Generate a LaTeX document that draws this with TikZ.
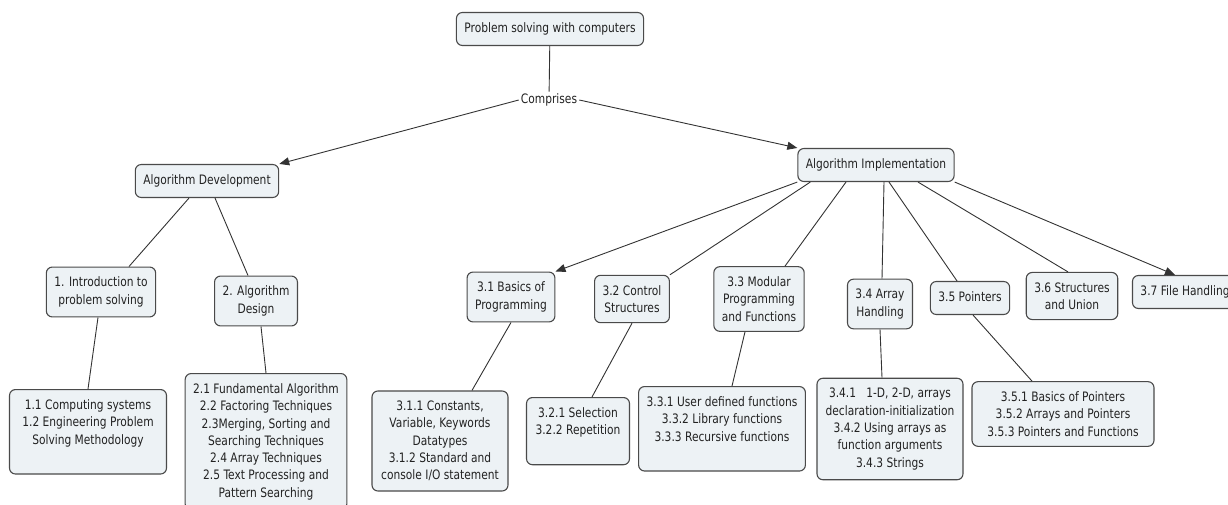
\documentclass[tikz,border=0pt]{standalone}
\usepackage{fontspec}
\setmainfont{DejaVu Sans}[FakeStretch=0.82]
\usepackage{tikz}
\usetikzlibrary{calc}
\usetikzlibrary{positioning}
\usetikzlibrary{arrows.meta}
\definecolor{boxfill}{HTML}{EDF2F5}
\definecolor{boxline}{HTML}{4A4A4A}
\definecolor{linkline}{HTML}{333333}
\definecolor{textcol}{HTML}{222222}
\tikzstyle{concept} = [draw=boxline, fill=boxfill, line width=1.1pt, rounded corners=6pt, align=center, inner xsep=8pt, inner ysep=10pt, text=textcol, font=\fontsize{13}{17.3}\selectfont]
\tikzstyle{oneline} = [text height=10pt, text depth=3pt]
\tikzstyle{phrase} = [inner sep=2pt, text=textcol, font=\fontsize{13}{17.3}\selectfont]
\tikzstyle{link} = [draw=linkline, line width=0.9pt]
\tikzstyle{linkarrow} = [link, -{Triangle[length=10pt,width=8pt]}]

\begin{document}
\begin{tikzpicture}[x=1pt, y=-1pt]
    \useasboundingbox (0,0) rectangle (1228,505);

    \node[concept, oneline] (problem) at (550,29) {Problem solving with computers};
    \node[phrase] (comprises) at (549,100) {Comprises};
    \node[concept, oneline] (alg_dev) at (207,181) {Algorithm Development};
    \node[concept, oneline] (alg_impl) at (876,165) {Algorithm Implementation};
    \draw[link] (problem) -- (comprises);
    \draw[linkarrow] (comprises.west) -- (alg_dev.north east);
    \draw[linkarrow] (comprises.east) -- (alg_impl.north west);

    \node[concept] (intro) at (101,292) {1. Introduction to\\ problem solving};
    \node[concept] (design) at (256,301) {2. Algorithm\\Design};
    \node[concept, anchor=north, minimum width=157pt, text depth=20pt] (intro_topics) at (88,389)
{1.1 Computing systems\\1.2 Engineering Problem\\Solving Methodology};
    \node[concept, anchor=north, minimum width=161pt] (design_topics) at (266,373)
{2.1 Fundamental Algorithm\\2.2 Factoring Techniques\\2.3Merging, Sorting and\\Searching Techniques\\2.4 Array Techniques\\2.5 Text Processing and\\Pattern Searching};
    \draw[link] ($(alg_dev.south)+(-18,0)$) -- ($(intro.north)+(28,0)$);
    \draw[link] ($(alg_dev.south)+(8,0)$) -- ($(design.north)+(-8,0)$);
    \draw[link] ($(intro.south)+(-3,0)$) -- (intro_topics.north);
    \draw[link] ($(design.south)+(5,0)$) -- (design_topics.north);

    \node[concept] (basics) at (511,297) {3.1 Basics of\\Programming};
    \node[concept] (control) at (632,299) {3.2 Control\\Structures};
    \node[concept] (modular) at (759,299) {3.3 Modular\\Programming\\and Functions};
    \node[concept] (array) at (880,304) {3.4 Array\\Handling};
    \node[concept, oneline] (pointers) at (970,298) {3.5 Pointers};
    \node[concept] (structs) at (1072,296) {3.6 Structures\\and Union};
    \node[concept, oneline] (files) at (1185,292) {3.7 File Handling};
    \draw[linkarrow] (alg_impl.south west) -- (basics.north east);
    \draw[link] ($(alg_impl.south west)+(13,0)$) -- (control.north east);
    \draw[link] ($(alg_impl.south)+(-30,0)$) -- ($(modular.north)+(26,0)$);
    \draw[link] ($(alg_impl.south)+(8,0)$) -- ($(array.north)+(2,0)$);
    \draw[link] ($(alg_impl.south)+(13,0)$) -- ($(pointers.north)+(-13,0)$);
    \draw[link] ($(alg_impl.south)+(42,0)$) -- ($(structs.north)+(-4,0)$);
    \draw[linkarrow] (alg_impl.south east) -- ($(files.north)+(-10,0)$);

    \node[concept, minimum width=136pt] (basics_topics) at (440,441)
{3.1.1 Constants,\\Variable, Keywords\\Datatypes\\3.1.2 Standard and\\console I/O statement};
    \node[concept, anchor=north, minimum width=103pt, text depth=20pt] (control_topics) at (578,397)
{3.2.1 Selection\\3.2.2 Repetition};
    \node[concept, anchor=north, minimum width=165pt, text depth=20pt] (modular_topics) at (722,386)
{3.3.1 User defined functions\\3.3.2 Library functions\\3.3.3 Recursive functions};
    \node[concept, minimum width=146pt] (array_topics) at (890,429)
{3.4.1\ \ \ 1-D, 2-D, arrays\\declaration-initialization\\3.4.2 Using arrays as\\function arguments\\3.4.3 Strings};
    \node[concept, minimum width=182pt] (pointers_topics) at (1063,414)
{3.5.1 Basics of Pointers\\3.5.2 Arrays and Pointers\\3.5.3 Pointers and Functions};
    \draw[link] (basics.south) -- ($(basics_topics.north)+(32,0)$);
    \draw[link] (control.south) -- ($(control_topics.north)+(14,0)$);
    \draw[link] ($(modular.south)+(-14,0)$) -- ($(modular_topics.north)+(10,0)$);
    \draw[link] (array.south) -- ($(array_topics.north)+(-8,0)$);
    \draw[link] ($(pointers.south)+(3,0)$) -- ($(pointers_topics.north)+(-31,0)$);
\end{tikzpicture}
\end{document}
